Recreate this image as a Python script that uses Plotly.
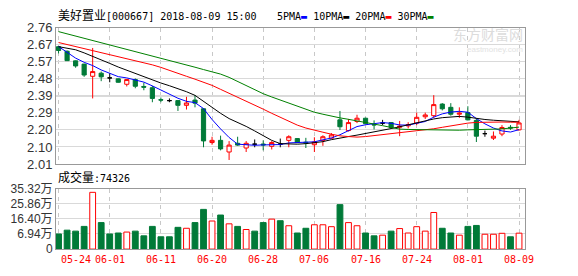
import plotly.graph_objects as go

# ---------------- data ----------------
dates = ["05-24", "05-25", "05-28", "05-29", "05-30", "05-31", "06-01", "06-04", "06-05", "06-06", "06-07", "06-08",
         "06-11", "06-12", "06-13", "06-14", "06-15", "06-19", "06-20", "06-21", "06-22", "06-25", "06-26", "06-27",
         "06-28", "06-29", "07-02", "07-03", "07-04", "07-05", "07-06", "07-09", "07-10", "07-11", "07-12", "07-13",
         "07-16", "07-17", "07-18", "07-19", "07-20", "07-23", "07-24", "07-25", "07-26", "07-27", "07-30", "07-31",
         "08-01", "08-02", "08-03", "08-06", "08-07", "08-08", "08-09"]

open_ = [2.656, 2.631, 2.578, 2.560, 2.493, 2.510, 2.484, 2.479, 2.449, 2.475, 2.437, 2.430,
         2.364, 2.359, 2.359, 2.333, 2.362, 2.314, 2.128, 2.140, 2.076, 2.124, 2.098, 2.119,
         2.120, 2.107, 2.119, 2.140, 2.150, 2.130, 2.116, 2.140, 2.152, 2.253, 2.194, 2.244,
         2.262, 2.228, 2.235, 2.238, 2.212, 2.220, 2.235, 2.270, 2.276, 2.340, 2.322, 2.284,
         2.293, 2.250, 2.177, 2.152, 2.175, 2.212, 2.198]
high = [2.660, 2.635, 2.580, 2.562, 2.649, 2.519, 2.510, 2.481, 2.477, 2.481, 2.458, 2.440,
        2.376, 2.371, 2.361, 2.380, 2.390, 2.317, 2.160, 2.166, 2.136, 2.160, 2.136, 2.145,
        2.140, 2.136, 2.150, 2.168, 2.152, 2.154, 2.157, 2.168, 2.180, 2.302, 2.258, 2.281,
        2.265, 2.250, 2.253, 2.240, 2.247, 2.240, 2.293, 2.293, 2.389, 2.345, 2.345, 2.322,
        2.328, 2.258, 2.194, 2.189, 2.224, 2.224, 2.253]
low = [2.619, 2.578, 2.540, 2.490, 2.371, 2.466, 2.460, 2.458, 2.437, 2.427, 2.416, 2.350,
       2.350, 2.350, 2.302, 2.310, 2.322, 2.102, 2.116, 2.085, 2.032, 2.110, 2.076, 2.102,
       2.085, 2.090, 2.102, 2.102, 2.125, 2.098, 2.076, 2.110, 2.149, 2.197, 2.189, 2.235,
       2.229, 2.200, 2.224, 2.206, 2.163, 2.206, 2.224, 2.258, 2.264, 2.305, 2.276, 2.264,
       2.250, 2.131, 2.160, 2.142, 2.163, 2.198, 2.194]
close = [2.635, 2.579, 2.550, 2.500, 2.519, 2.490, 2.484, 2.460, 2.475, 2.438, 2.433, 2.371,
         2.362, 2.359, 2.333, 2.346, 2.345, 2.137, 2.140, 2.093, 2.114, 2.114, 2.124, 2.119,
         2.115, 2.128, 2.119, 2.160, 2.128, 2.126, 2.131, 2.160, 2.170, 2.215, 2.238, 2.262,
         2.232, 2.225, 2.235, 2.211, 2.218, 2.227, 2.267, 2.280, 2.337, 2.314, 2.284, 2.290,
         2.253, 2.163, 2.177, 2.163, 2.211, 2.208, 2.236]

# volume in 万 (10k shares)
volume = [6.94, 9.31, 8.71, 11.67, 32.96, 14.04, 6.94, 7.53, 8.12, 8.71, 5.76, 11.67,
          5.17, 5.17, 11.08, 10.49, 14.04, 22.31, 15.04, 18.77, 13.27, 11.67, 9.72, 8.71,
          14.04, 16.22, 15.22, 12.08, 7.53, 10.49, 12.68, 12.68, 11.49, 25.27, 14.04, 12.08,
          7.53, 5.76, 6.17, 8.71, 10.31, 7.53, 11.49, 8.71, 20.36, 10.49, 7.53, 6.17,
          11.67, 12.26, 6.76, 6.76, 7.35, 5.17, 7.4326]

ma5 = [2.657, 2.625, 2.593, 2.570, 2.552, 2.528, 2.509, 2.491, 2.484, 2.472, 2.461, 2.440,
       2.416, 2.394, 2.372, 2.355, 2.348, 2.315, 2.255, 2.203, 2.156, 2.119, 2.115, 2.113,
       2.115, 2.118, 2.117, 2.126, 2.128, 2.131, 2.132, 2.143, 2.153, 2.171, 2.195, 2.216,
       2.226, 2.234, 2.238, 2.234, 2.225, 2.224, 2.232, 2.244, 2.268, 2.286, 2.296, 2.300,
       2.295, 2.260, 2.231, 2.208, 2.192, 2.186, 2.199]
ma10 = [2.656, 2.648, 2.639, 2.622, 2.604, 2.584, 2.564, 2.544, 2.526, 2.507, 2.489, 2.472,
        2.456, 2.441, 2.425, 2.408, 2.388, 2.354, 2.320, 2.289, 2.260, 2.239, 2.217, 2.192,
        2.166, 2.140, 2.122, 2.119, 2.119, 2.122, 2.126, 2.133, 2.144, 2.154, 2.161, 2.169,
        2.177, 2.185, 2.195, 2.205, 2.215, 2.226, 2.238, 2.248, 2.258, 2.265, 2.269, 2.272,
        2.268, 2.260, 2.255, 2.251, 2.247, 2.244, 2.242]
ma20 = [2.679, 2.668, 2.657, 2.646, 2.635, 2.624, 2.613, 2.602, 2.590, 2.579, 2.567, 2.556,
        2.542, 2.527, 2.511, 2.493, 2.477, 2.460, 2.443, 2.421, 2.400, 2.378, 2.356, 2.334,
        2.312, 2.289, 2.267, 2.244, 2.224, 2.208, 2.195, 2.185, 2.174, 2.165, 2.161, 2.158,
        2.161, 2.166, 2.171, 2.177, 2.182, 2.187, 2.192, 2.198, 2.204, 2.212, 2.220, 2.229,
        2.235, 2.239, 2.241, 2.241, 2.241, 2.240, 2.240]
ma30 = [2.739, 2.727, 2.714, 2.702, 2.690, 2.678, 2.666, 2.654, 2.642, 2.630, 2.618, 2.606,
        2.593, 2.580, 2.568, 2.555, 2.543, 2.530, 2.517, 2.505, 2.487, 2.464, 2.442, 2.420,
        2.397, 2.379, 2.362, 2.344, 2.327, 2.310, 2.295, 2.284, 2.273, 2.264, 2.256, 2.248,
        2.241, 2.231, 2.221, 2.211, 2.202, 2.200, 2.199, 2.197, 2.195, 2.194, 2.194, 2.196,
        2.198, 2.199, 2.201, 2.202, 2.203, 2.208, 2.213]

price_tick_labels = ["2.01", "2.10", "2.20", "2.29", "2.39", "2.48", "2.57", "2.67", "2.76"]
vol_tick_values = [-2.52, 6.94, 16.40, 25.86, 35.32]
vol_tick_labels = ["0", "6.94万", "16.40万", "25.86万", "35.32万"]
date_tick_labels = ["05-24", "06-01", "06-11", "06-20", "06-28", "07-06", "07-16", "07-24", "08-01", "08-09"]

stock_title = "美好置业[000667] 2018-08-09 15:00"
ma_names = ["5PMA", "10PMA", "20PMA", "30PMA"]

# ---------------- style ----------------
RED = "#ff0000"
GREEN = "#007a38"
MA_COLORS = ["#0000ff", "#000000", "#ff0000", "#008000"]
FRAME = "#999999"
GRID = "#d9d9d9"
VGRID = "#c8c8c8"
MONO = "DejaVu Sans Mono, Noto Sans CJK SC"
SANS = "Liberation Sans, Noto Sans CJK SC"

W, H = 578, 276
px_x = lambda p: p / W
px_y = lambda p: 1 - p / H
x_dom = [px_x(56), px_x(525)]
y_price_dom = [px_y(166), px_y(22)]
y_vol_dom = [px_y(256), px_y(192)]

n = len(dates)
flat = [o == c for o, c in zip(open_, close)]


def keep(vals, mask):
    return [v if m else None for v, m in zip(vals, mask)]


not_flat = [not f for f in flat]

fig = go.Figure()

# candles (rising hollow red, falling solid green)
fig.add_trace(go.Candlestick(
    x=dates, open=keep(open_, not_flat), high=keep(high, not_flat),
    low=keep(low, not_flat), close=keep(close, not_flat),
    increasing=dict(line=dict(color=RED, width=1), fillcolor="white"),
    decreasing=dict(line=dict(color=GREEN, width=1), fillcolor=GREEN),
    whiskerwidth=0, xaxis="x", yaxis="y", hoverinfo="skip", showlegend=False))
# unchanged candles in black
fig.add_trace(go.Candlestick(
    x=dates, open=keep(open_, flat), high=keep(high, flat),
    low=keep(low, flat), close=keep(close, flat),
    increasing=dict(line=dict(color="#000000", width=1), fillcolor="#000000"),
    decreasing=dict(line=dict(color="#000000", width=1), fillcolor="#000000"),
    whiskerwidth=0, xaxis="x", yaxis="y", hoverinfo="skip", showlegend=False))

for vals, col in zip([ma5, ma10, ma20, ma30], MA_COLORS):
    fig.add_trace(go.Scatter(x=dates, y=vals, mode="lines", line=dict(color=col, width=1),
                             xaxis="x", yaxis="y", hoverinfo="skip", showlegend=False))

# volume colours follow candle direction (ties compare with previous close)
vol_up = []
for i in range(n):
    if close[i] > open_[i]:
        vol_up.append(True)
    elif close[i] < open_[i]:
        vol_up.append(False)
    else:
        vol_up.append(i > 0 and close[i] >= close[i - 1])
vol_fill = ["white" if u else GREEN for u in vol_up]
vol_line = [RED if u else GREEN for u in vol_up]
vol_floor = vol_tick_values[0]

fig.add_trace(go.Bar(
    x=dates, y=[v - vol_floor for v in volume], base=vol_floor, width=0.68,
    marker=dict(color=vol_fill, line=dict(color=vol_line, width=1)),
    xaxis="x2", yaxis="y2", hoverinfo="skip", showlegend=False))

p_lo, p_hi = float(price_tick_labels[0]), float(price_tick_labels[-1])
p_step = (p_hi - p_lo) / (len(price_tick_labels) - 1)
price_tick_vals = [p_lo + k * p_step for k in range(len(price_tick_labels))]

common_x = dict(type="category", categoryorder="array", categoryarray=dates,
                range=[-0.3, n - 0.3], tickvals=date_tick_labels, showticklabels=False,
                showgrid=True, gridcolor=VGRID, griddash="4px,4px", gridwidth=1,
                showline=True, mirror=True, linecolor=FRAME, linewidth=1, ticks="",
                zeroline=False, fixedrange=True, domain=x_dom)

fig.update_layout(
    width=W, height=H, margin=dict(l=0, r=0, t=0, b=0),
    paper_bgcolor="white", plot_bgcolor="white", showlegend=False,
    xaxis=dict(common_x, anchor="y", rangeslider=dict(visible=False)),
    xaxis2=dict(common_x, anchor="y2", rangeslider=dict(visible=False)),
    yaxis=dict(domain=y_price_dom, range=[p_lo, p_hi], tickvals=price_tick_vals,
               ticktext=price_tick_labels, showgrid=True, gridcolor=GRID, gridwidth=1,
               showline=True, mirror=True, linecolor=FRAME, linewidth=1, ticks="",
               zeroline=False, tickfont=dict(family=SANS, size=13, color="#333333"),
               anchor="x", fixedrange=True),
    yaxis2=dict(domain=y_vol_dom, range=[vol_tick_values[0], vol_tick_values[-1]],
                tickvals=vol_tick_values, ticktext=vol_tick_labels, showgrid=True,
                gridcolor=GRID, gridwidth=1, showline=True, mirror=True, linecolor=FRAME,
                linewidth=1, ticks="", zeroline=False,
                tickfont=dict(family=SANS, size=12, color="#333333"),
                anchor="x2", fixedrange=True),
    bargap=0.3,
)

# darker middle line of price panel
fig.add_shape(type="line", xref="paper", yref="y", x0=x_dom[0], x1=x_dom[1],
              y0=price_tick_vals[len(price_tick_vals) // 2],
              y1=price_tick_vals[len(price_tick_vals) // 2],
              line=dict(color="#a0a0a0", width=1), layer="below")

NB = "\u00a0"
cjk = lambda s: '<span style="font-size:12px">' + s + '</span>'
title_txt = cjk(stock_title[:4]) + stock_title[4:].replace(" ", NB)
fig.add_annotation(xref="paper", yref="paper", x=px_x(56), y=px_y(10), xanchor="left",
                   yanchor="middle", showarrow=False, text=title_txt,
                   font=dict(family=MONO, size=10, color="#000000"))
legend_txt = (NB).join(
    name + '<span style="color:%s">\u25ac</span>' % col for name, col in zip(ma_names, MA_COLORS))
fig.add_annotation(xref="paper", yref="paper", x=px_x(275), y=px_y(10), xanchor="left",
                   yanchor="middle", showarrow=False, text=legend_txt,
                   font=dict(family=MONO, size=10, color="#000000"))

fig.add_annotation(xref="paper", yref="paper", x=px_x(56), y=px_y(180), xanchor="left",
                   yanchor="middle", showarrow=False,
                   text=cjk("成交量") + ":%d" % round(volume[-1] * 10000),
                   font=dict(family=MONO, size=10, color="#000000"))

# date labels under the volume panel
for k, d in enumerate(date_tick_labels):
    fig.add_annotation(xref="x2", yref="paper", x=d, y=px_y(267),
                       xanchor="left" if k == 0 else "center", yanchor="middle",
                       showarrow=False, text=d,
                       font=dict(family=MONO, size=10, color=RED))

# watermark
fig.add_annotation(xref="paper", yref="paper", x=px_x(525), y=px_y(28.5), xanchor="right",
                   yanchor="middle", showarrow=False, text="东方财富网",
                   font=dict(family="Noto Sans CJK SC", size=14, color="#dcdcdc"))
fig.add_annotation(xref="paper", yref="paper", x=px_x(525), y=px_y(44.5), xanchor="right",
                   yanchor="middle", showarrow=False, text="eastmoney.com",
                   font=dict(family="Liberation Sans", size=8, color="#e2e2e2"))

fig.write_html("out.html")
